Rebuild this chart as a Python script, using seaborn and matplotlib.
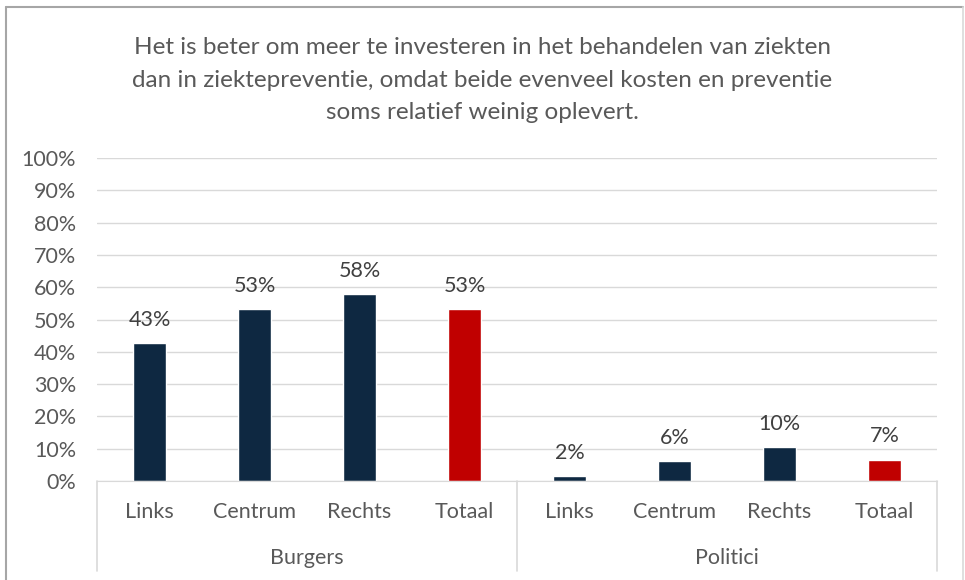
import pandas as pd
import seaborn as sns
import matplotlib.pyplot as plt
from matplotlib.lines import Line2D

# Data
groups = ["Burgers", "Politici"]
subcats = ["Links", "Centrum", "Rechts", "Totaal"]
burgers = [42.7, 53.2, 57.8, 53.1]
politici = [1.6, 6.1, 10.4, 6.6]
labels = ["43%", "53%", "58%", "53%", "2%", "6%", "10%", "7%"]
title = ("Het is beter om meer te investeren in het behandelen van ziekten\n"
         "dan in ziektepreventie, omdat beide evenveel kosten en preventie\n"
         "soms relatief weinig oplevert.")

rows = []
for g, vals in zip(groups, [burgers, politici]):
    for s, v in zip(subcats, vals):
        rows.append({"key": g + "|" + s, "value": v,
                     "kind": "totaal" if s == "Totaal" else "partij"})
df = pd.DataFrame(rows)

sns.set_style("white")
plt.rcParams['font.family'] = ['Lato', 'DejaVu Sans']
grey = "#595959"
fs = 15.5

fig = plt.figure(figsize=(9.65, 5.8), dpi=100)
ax = fig.add_axes([97 / 965, 99 / 580, 840 / 965, 323 / 580])

sns.barplot(data=df, x="key", y="value", hue="kind", dodge=False,
            palette={"partij": "#0E2841", "totaal": "#C00000"},
            width=0.31, legend=False, ax=ax, saturation=1)

ax.set_ylim(0, 100)
ax.set_xlim(-0.5, 7.5)
ax.set_yticks(range(0, 101, 10))
ax.set_yticklabels([f"{t}%" for t in range(0, 101, 10)], color=grey, fontsize=fs)
ax.yaxis.grid(True, color="#D9D9D9", lw=1)
ax.set_axisbelow(True)
ax.tick_params(axis="y", length=0, pad=15)
ax.tick_params(axis="x", length=0, pad=15)
ax.set_xticks(range(8))
ax.set_xticklabels(subcats * 2, color=grey, fontsize=fs)
ax.set_xlabel("")
ax.set_ylabel("")
for side in ["top", "right", "left"]:
    ax.spines[side].set_visible(False)
ax.spines["bottom"].set_color("#D9D9D9")

# value labels
for i, (v, lab) in enumerate(zip(burgers + politici, labels)):
    ax.annotate(lab, (i, v), xytext=(0, 9.5), textcoords="offset points",
                ha="center", va="bottom", color="#404040", fontsize=fs)

# group labels and separators
trans = ax.get_xaxis_transform()
for gi, g in enumerate(groups):
    ax.text(gi * 4 + 1.5, -0.238, g, transform=trans, ha="center", va="center",
            color=grey, fontsize=fs)
for xs in [-0.5, 3.5, 7.5]:
    ax.plot([xs, xs], [0, -0.28], transform=trans, color="#D9D9D9", lw=1.2,
            clip_on=False)

fig.text(0.5, 1 - 80 / 580, title, ha="center", va="center", color=grey,
         fontsize=17.5, linespacing=1.67)

# chart border
fig.add_artist(Line2D([5.5 / 965, 5.5 / 965], [0, 1 - 7 / 580], color="#A6A6A6", lw=1.5))
fig.add_artist(Line2D([5.5 / 965, 963 / 965], [1 - 7 / 580, 1 - 7 / 580], color="#A6A6A6", lw=1.5))
fig.add_artist(Line2D([963 / 965, 963 / 965], [0, 1 - 7 / 580], color="#D9D9D9", lw=1.2))

plt.savefig("out.png", dpi=100)
